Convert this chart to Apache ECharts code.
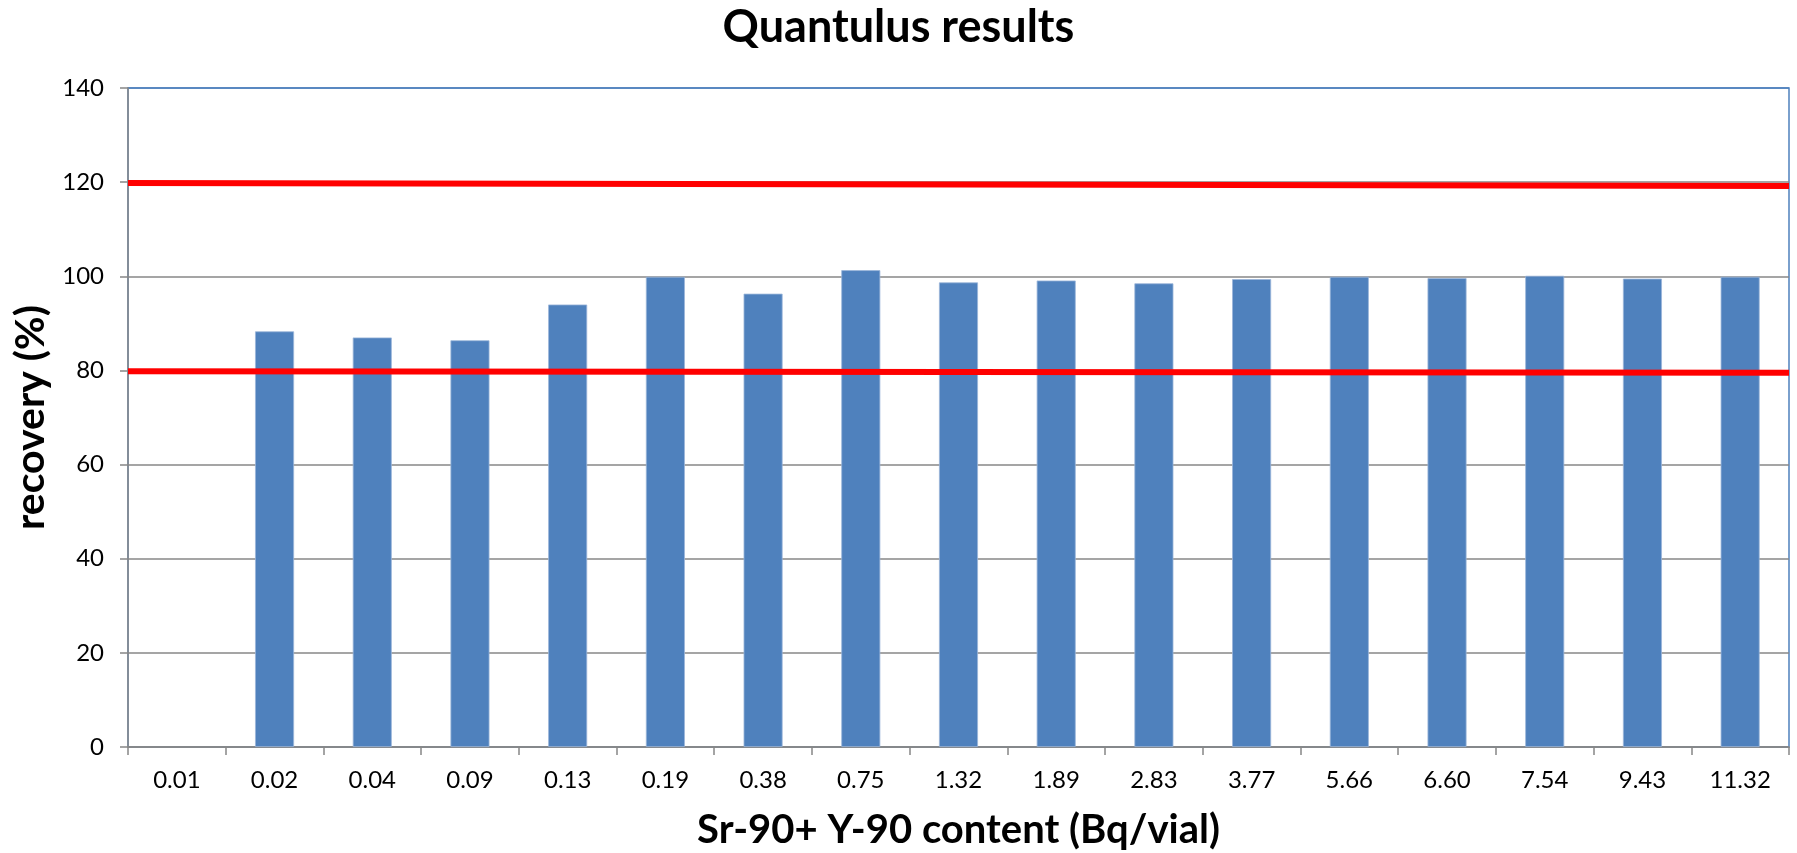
<!DOCTYPE html>
<html>
<head>
<meta charset="utf-8">
<script src="https://cdn.jsdelivr.net/npm/echarts@6/dist/echarts.min.js"></script>
<style>
html,body{margin:0;padding:0;background:#fff;}
#c{width:1797px;height:853px;}
</style>
</head>
<body>
<div id="c"></div>
<script>
const categories = ['0.01','0.02','0.04','0.09','0.13','0.19','0.38','0.75','1.32','1.89','2.83','3.77','5.66','6.60','7.54','9.43','11.32'];
const recovery = [-0.4, 88.3, 87.0, 86.4, 94.0, 99.9, 96.3, 101.3, 98.7, 99.1, 98.5, 99.4, 99.9, 99.6, 100.1, 99.5, 99.9];
const upperLimit = [[0, 119.8], [1, 119.2]];
const lowerLimit = [[0, 79.8], [1, 79.5]];
const yTicks = [0, 20, 40, 60, 80, 100, 120, 140];

const chart = echarts.init(document.getElementById('c'));
const FONT = 'Lato';
const gridColors = yTicks.map((v, i) => i === yTicks.length - 1 ? '#4F81BD' : '#878787');
chart.setOption({
  animation: false,
  backgroundColor: '#fff',
  title: {
    text: 'Quantulus results',
    left: 'center',
    top: 0,
    textStyle: {fontFamily: FONT, fontWeight: 'bold', fontSize: 45, color: '#000'}
  },
  grid: {left: 128, right: 8, top: 88, bottom: 106, outerBoundsMode: 'none', containLabel: false, show: true, borderColor: '#4F81BD', borderWidth: 1.5, backgroundColor: 'transparent'},
  xAxis: [{
    type: 'category',
    data: categories,
    name: 'Sr-90+ Y-90 content (Bq/vial)',
    nameLocation: 'middle',
    nameGap: 63,
    nameTextStyle: {fontFamily: FONT, fontWeight: 'bold', fontSize: 40, color: '#000'},
    axisLine: {lineStyle: {color: '#878787', width: 1.5}},
    axisTick: {show: true, alignWithLabel: false, length: 8, lineStyle: {color: '#878787', width: 1.5}},
    axisLabel: {fontFamily: FONT, fontSize: 24, color: '#000', margin: 21, interval: 0},
    splitLine: {show: false}
  }, {
    type: 'value',
    min: 0, max: 1,
    show: false
  }],
  yAxis: {
    type: 'value',
    min: 0, max: 140, interval: 20,
    name: 'recovery (%)',
    nameLocation: 'middle',
    nameRotate: 90,
    nameGap: 72,
    nameTextStyle: {fontFamily: FONT, fontWeight: 'bold', fontSize: 41, color: '#000'},
    axisLine: {show: true, lineStyle: {color: '#878787', width: 1.5}},
    axisTick: {show: true, length: 8, lineStyle: {color: '#878787', width: 1.5}},
    axisLabel: {fontFamily: FONT, fontSize: 24, color: '#000', margin: 24},
    splitLine: {show: true, lineStyle: {color: gridColors, width: 1.5}}
  },
  series: [{
    type: 'bar',
    data: recovery,
    barWidth: 39,
    itemStyle: {color: '#4F81BD', borderColor: '#9BB5D9', borderWidth: 0.8},
    z: 2
  }, {
    type: 'line',
    xAxisIndex: 1,
    data: upperLimit,
    symbol: 'none',
    lineStyle: {color: '#FF0000', width: 6},
    z: 3
  }, {
    type: 'line',
    xAxisIndex: 1,
    data: lowerLimit,
    symbol: 'none',
    lineStyle: {color: '#FF0000', width: 6},
    z: 3
  }]
});
</script>
</body>
</html>
